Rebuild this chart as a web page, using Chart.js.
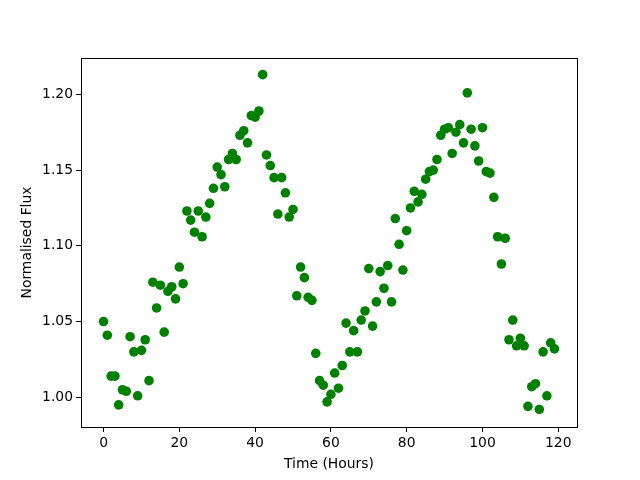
<!DOCTYPE html>
<html>
<head>
<meta charset="utf-8">
<script src="https://cdn.jsdelivr.net/npm/chart.js@4"></script>
<style>
  html, body { margin: 0; padding: 0; background: #fff; }
  #wrap { width: 640px; height: 480px; }
</style>
</head>
<body>
<div id="wrap"><canvas id="chart" width="640" height="480"></canvas></div>
<script>
// time in hours
const hours = [
  0, 1, 2, 3, 4, 5, 6, 7, 8, 9, 10, 11, 12, 13, 14, 15, 16, 17, 18, 19,
  20, 21, 22, 23, 24, 25, 26, 27, 28, 29, 30, 31, 32, 33, 34, 35, 36, 37, 38, 39,
  40, 41, 42, 43, 44, 45, 46, 47, 48, 49, 50, 51, 52, 53, 54, 55, 56, 57, 58, 59,
  60, 61, 62, 63, 64, 65, 66, 67, 68, 69, 70, 71, 72, 73, 74, 75, 76, 77, 78, 79,
  80, 81, 82, 83, 84, 85, 86, 87, 88, 89, 90, 91, 92, 93, 94, 95, 96, 97, 98, 99,
  100, 101, 102, 103, 104, 105, 106, 107, 108, 109, 110, 111, 112, 113, 114, 115, 116, 117, 118, 119
];

// normalised flux
const flux = [
  1.050, 1.041, 1.014, 1.014, 0.995, 1.005, 1.004, 1.040, 1.030, 1.001,
  1.031, 1.038, 1.011, 1.076, 1.059, 1.074, 1.043, 1.070, 1.073, 1.065,
  1.086, 1.075, 1.123, 1.117, 1.109, 1.123, 1.106, 1.119, 1.128, 1.138,
  1.152, 1.147, 1.139, 1.157, 1.161, 1.157, 1.173, 1.176, 1.168, 1.186,
  1.185, 1.189, 1.213, 1.160, 1.153, 1.145, 1.121, 1.145, 1.135, 1.119,
  1.124, 1.067, 1.086, 1.079, 1.066, 1.064, 1.029, 1.011, 1.008, 0.997,
  1.002, 1.016, 1.006, 1.021, 1.049, 1.030, 1.044, 1.030, 1.051, 1.057,
  1.085, 1.047, 1.063, 1.083, 1.072, 1.087, 1.063, 1.118, 1.101, 1.084,
  1.110, 1.125, 1.136, 1.129, 1.134, 1.144, 1.149, 1.150, 1.157, 1.173,
  1.177, 1.178, 1.161, 1.175, 1.180, 1.168, 1.201, 1.177, 1.166, 1.156,
  1.178, 1.149, 1.148, 1.132, 1.106, 1.088, 1.105, 1.038, 1.051, 1.034,
  1.039, 1.034, 0.994, 1.007, 1.009, 0.992, 1.030, 1.001, 1.036, 1.032
];

const xTicks = [0, 20, 40, 60, 80, 100, 120];
const yTicks = [1.00, 1.05, 1.10, 1.15, 1.20];

const points = hours.map((h, i) => ({ x: h, y: flux[i] }));

Chart.defaults.font.family = "'DejaVu Sans', sans-serif";
Chart.defaults.font.size = 13.9;
Chart.defaults.color = '#000';

// matplotlib style box around the axes
const frame = {
  id: 'frame',
  afterDraw(chart) {
    const { ctx, chartArea: a } = chart;
    ctx.save();
    ctx.strokeStyle = '#000';
    ctx.lineWidth = 1;
    ctx.strokeRect(Math.round(a.left) + 0.5, Math.round(a.top) + 0.5,
      Math.round(a.right - a.left), Math.round(a.bottom - a.top));
    ctx.restore();
  }
};

new Chart(document.getElementById('chart'), {
  type: 'scatter',
  data: {
    datasets: [{
      data: points,
      backgroundColor: '#008000',
      borderWidth: 0,
      pointRadius: 4.8,
      pointHoverRadius: 4.8
    }]
  },
  options: {
    responsive: false,
    animation: false,
    events: [],
    layout: { padding: { left: 0, top: 58, right: 63, bottom: 0 } },
    plugins: { legend: { display: false }, tooltip: { enabled: false } },
    scales: {
      x: {
        type: 'linear',
        min: -5.95,
        max: 124.95,
        afterFit(s) { s.height = 53; },
        afterBuildTicks(s) { s.ticks = xTicks.map(v => ({ value: v })); },
        ticks: { padding: 3, maxRotation: 0, callback: v => String(v) },
        grid: { drawOnChartArea: false, drawTicks: true, tickLength: 5, color: '#000', lineWidth: 1 },
        border: { display: true, color: '#000', width: 1 },
        title: { display: true, text: 'Time (Hours)', padding: { top: 0, bottom: 7 } }
      },
      y: {
        type: 'linear',
        min: 0.9804,
        max: 1.224,
        afterFit(s) { s.width = 81; },
        afterBuildTicks(s) { s.ticks = yTicks.map(v => ({ value: v })); },
        ticks: { padding: 3, callback: v => v.toFixed(2) },
        grid: { drawOnChartArea: false, drawTicks: true, tickLength: 5, color: '#000', lineWidth: 1 },
        border: { display: true, color: '#000', width: 1 },
        title: { display: true, text: 'Normalised Flux', padding: { top: 19, bottom: 0 } }
      }
    }
  },
  plugins: [frame]
});
</script>
</body>
</html>
